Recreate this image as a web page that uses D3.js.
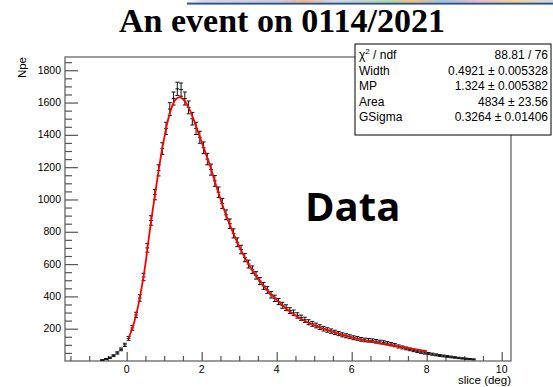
<!DOCTYPE html>
<html>
<head>
<meta charset="utf-8">
<script src="https://cdn.jsdelivr.net/npm/d3@7"></script>
<style>
  html, body { margin: 0; padding: 0; background: #fff; }
  svg { display: block; }
</style>
</head>
<body>
<svg id="chart" width="553" height="387"></svg>
<script>
// Histogram: bin centres (deg) and entries per 0.1-deg bin
const binCenters = [
  -0.65,-0.55,-0.45,-0.35,-0.25,-0.15,-0.05,0.05,0.15,0.25,
  0.35,0.45,0.55,0.65,0.75,0.85,0.95,1.05,1.15,1.25,
  1.35,1.45,1.55,1.65,1.75,1.85,1.95,2.05,2.15,2.25,
  2.35,2.45,2.55,2.65,2.75,2.85,2.95,3.05,3.15,3.25,
  3.35,3.45,3.55,3.65,3.75,3.85,3.95,4.05,4.15,4.25,
  4.35,4.45,4.55,4.65,4.75,4.85,4.95,5.05,5.15,5.25,
  5.35,5.45,5.55,5.65,5.75,5.85,5.95,6.05,6.15,6.25,
  6.35,6.45,6.55,6.65,6.75,6.85,6.95,7.05,7.15,7.25,
  7.35,7.45,7.55,7.65,7.75,7.85,7.95,8.05,8.15,8.25,
  8.35,8.45,8.55,8.65,8.75,8.85,8.95,9.05,9.15,9.25
];
const binCounts = [
  6,12,20,33,50,72,100,140,205,285,
  390,520,700,870,1030,1180,1315,1440,1560,1625,
  1685,1680,1625,1570,1500,1440,1385,1320,1250,1185,
  1115,1045,975,905,850,790,735,690,640,600,
  565,530,495,465,440,410,388,368,345,330,
  312,298,282,268,255,240,230,220,210,200,
  192,185,177,170,162,156,150,144,140,134,
  130,128,126,122,118,115,110,104,98,90,
  84,78,72,66,60,55,50,46,42,38,
  34,31,28,25,22,19,16,14,12,10
];
const binWidth = 0.1;

// Landau (x) Gauss fit curve, sampled
const fitX = [0.05,0.1,0.2,0.3,0.4,0.5,0.6,0.7,0.8,0.9,1.0,1.1,1.2,1.3,1.4,1.5,1.6,1.7,1.8,1.9,2.0,2.1,2.2,2.4,2.6,2.8,3.0,3.2,3.4,3.6,3.8,4.0,4.25,4.5,4.75,5.0,5.5,6.0,6.5,7.0,7.5,8.0];
const fitY = [140,170,240,335,455,600,780,945,1100,1250,1380,1490,1570,1618,1632,1622,1592,1545,1485,1420,1355,1290,1225,1075,935,815,710,620,545,480,425,378,325,282,248,222,180,146,120,99,80,62];

// Fit statistics box
const statLabels = ["χ2 / ndf", "Width", "MP", "Area", "GSigma"];
const statValues = ["88.81 / 76", "0.4921 ± 0.005328", "1.324 ± 0.005382", "4834 ± 23.56", "0.3264 ± 0.01406"];

const xMajorTicks = [0, 2, 4, 6, 8, 10];
const yMajorTicks = [200, 400, 600, 800, 1000, 1200, 1400, 1600, 1800];

const titleText = "An event on 0114/2021";
const xTitle = "slice (deg)";
const yTitle = "Npe";
const noteText = "Data";

const svg = d3.select("#chart");
const frame = { left: 65, right: 511, top: 57, bottom: 361 };

const x = d3.scaleLinear().domain([-1.645, 10.248]).range([frame.left, frame.right]);
const y = d3.scaleLinear().domain([0, 1882]).range([frame.bottom, frame.top]);

// Decorative banner strip at the top
const grad = svg.append("defs").append("linearGradient").attr("id", "strip");
[["0%", "#ffffff"], ["4%", "#d9d4ee"], ["25%", "#c9cbe6"], ["32%", "#f0b48a"], ["40%", "#cfd6ee"],
 ["55%", "#b7d7a8"], ["62%", "#f3c07a"], ["70%", "#9fc3e6"], ["80%", "#e9b9d4"], ["90%", "#f5d58a"], ["100%", "#cfd6ee"]]
  .forEach(([o, c]) => grad.append("stop").attr("offset", o).attr("stop-color", c));
svg.append("rect").attr("x", 187).attr("y", 0).attr("width", 366).attr("height", 2.6).attr("fill", "url(#strip)");
svg.append("rect").attr("x", 187).attr("y", 2.6).attr("width", 366).attr("height", 2).attr("fill", "#2f5686");

// Title
svg.append("text")
  .attr("x", 282).attr("y", 32)
  .attr("text-anchor", "middle")
  .attr("font-family", "'Liberation Serif', 'Times New Roman', serif")
  .attr("font-weight", "bold")
  .attr("font-size", 34)
  .attr("fill", "#000")
  .text(titleText);

// Frame
svg.append("rect")
  .attr("x", frame.left).attr("y", frame.top)
  .attr("width", frame.right - frame.left).attr("height", frame.bottom - frame.top)
  .attr("fill", "none").attr("stroke", "#666").attr("stroke-width", 1.3);

// Axes with inward ticks
const tickColor = "#555";
const yAxis = d3.axisRight(y).tickValues(yMajorTicks).tickSize(13).tickFormat("");
const gy = svg.append("g").attr("transform", `translate(${frame.left},0)`).call(yAxis);
const yMinor = d3.range(50, 1882, 50).filter(v => v % 200 !== 0);
svg.append("g").attr("transform", `translate(${frame.left},0)`)
  .call(d3.axisRight(y).tickValues(yMinor).tickSize(7).tickFormat(""));

const xAxis = d3.axisTop(x).tickValues(xMajorTicks).tickSize(9).tickFormat("");
svg.append("g").attr("transform", `translate(0,${frame.bottom})`).call(xAxis);
const xMinor = d3.range(-1.5, 10.25, 0.5).filter(v => Math.abs(v % 2) > 1e-9);
svg.append("g").attr("transform", `translate(0,${frame.bottom})`)
  .call(d3.axisTop(x).tickValues(xMinor).tickSize(5).tickFormat(""));

svg.selectAll(".domain").remove();
svg.selectAll(".tick line").attr("stroke", tickColor).attr("stroke-width", 1.2);
svg.select("rect").raise;

// Tick labels
const labelFont = "'Liberation Sans', Arial, Helvetica, sans-serif";
svg.append("g").selectAll("text").data(yMajorTicks).join("text")
  .attr("x", 61).attr("y", d => y(d) + 3.6)
  .attr("text-anchor", "end")
  .attr("font-family", labelFont).attr("font-size", 10.5).attr("fill", "#000")
  .text(d => d);
svg.append("g").selectAll("text").data(xMajorTicks).join("text")
  .attr("x", d => x(d)).attr("y", 373)
  .attr("text-anchor", "middle")
  .attr("font-family", labelFont).attr("font-size", 10.5).attr("fill", "#000")
  .text(d => d);

// Axis titles
svg.append("text")
  .attr("x", frame.right).attr("y", 384)
  .attr("text-anchor", "end")
  .attr("font-family", labelFont).attr("font-size", 11.5).attr("fill", "#000")
  .text(xTitle);
svg.append("text")
  .attr("transform", `translate(26,${frame.top}) rotate(-90)`)
  .attr("text-anchor", "end")
  .attr("font-family", labelFont).attr("font-size", 11.5).attr("fill", "#000")
  .text(yTitle);

// Histogram with error bars (Poisson errors)
const bins = binCenters.map((c, i) => ({ c, n: binCounts[i], e: Math.sqrt(binCounts[i]) }));
const hg = svg.append("g").attr("stroke", "#111").attr("stroke-width", 1).attr("fill", "none");
const cap = 2;
bins.forEach(b => {
  const xc = x(b.c), yc = y(b.n), yl = y(Math.max(0, b.n - b.e)), yh = y(b.n + b.e);
  hg.append("line").attr("x1", x(b.c - binWidth / 2)).attr("x2", x(b.c + binWidth / 2)).attr("y1", yc).attr("y2", yc);
  hg.append("line").attr("x1", xc).attr("x2", xc).attr("y1", yl).attr("y2", yh);
  hg.append("line").attr("x1", xc - cap).attr("x2", xc + cap).attr("y1", yh).attr("y2", yh);
  hg.append("line").attr("x1", xc - cap).attr("x2", xc + cap).attr("y1", yl).attr("y2", yl);
});

// Fit curve
const fitLine = d3.line().x(d => x(d[0])).y(d => y(d[1])).curve(d3.curveMonotoneX);
svg.append("path")
  .datum(fitX.map((v, i) => [v, fitY[i]]))
  .attr("d", fitLine)
  .attr("fill", "none").attr("stroke", "#ff0000").attr("stroke-width", 1.8);

// Statistics box
const box = { x: 355, y: 44, w: 196, h: 91 };
svg.append("rect")
  .attr("x", box.x).attr("y", box.y).attr("width", box.w).attr("height", box.h)
  .attr("fill", "#fff").attr("stroke", "#000").attr("stroke-width", 1);
const rowY = i => 59 + i * 15.5;
const sl = svg.append("g").attr("font-family", labelFont).attr("font-size", 12).attr("fill", "#000");
statLabels.forEach((t, i) => {
  const tx = sl.append("text").attr("x", 359).attr("y", rowY(i));
  if (i === 0) {
    tx.append("tspan").text("χ");
    tx.append("tspan").attr("font-size", 8).attr("dy", -5).text("2");
    tx.append("tspan").attr("dy", 5).text(" / ndf");
  } else {
    tx.text(t);
  }
});
statValues.forEach((t, i) => {
  sl.append("text").attr("x", 548).attr("y", rowY(i)).attr("text-anchor", "end").text(t);
});

// Annotation
svg.append("text")
  .attr("x", 305).attr("y", 221)
  .attr("font-family", "'Open Sans', Lato, sans-serif")
  .attr("font-weight", "bold")
  .attr("font-size", 40)
  .attr("fill", "#000")
  .text(noteText);
</script>
</body>
</html>
